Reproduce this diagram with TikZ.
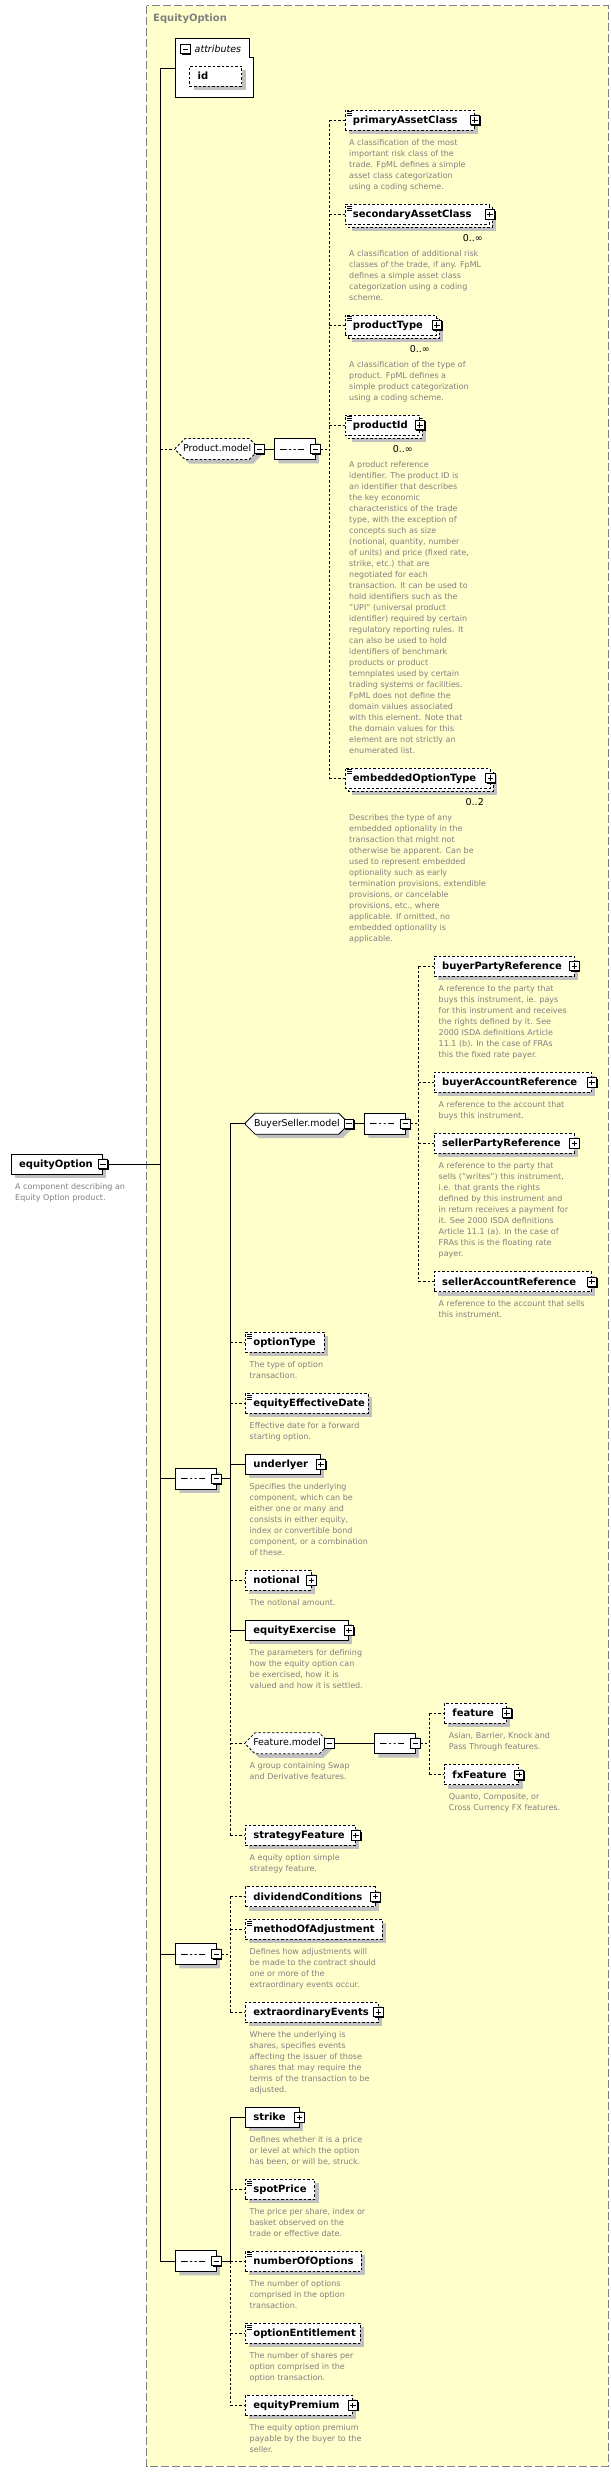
\documentclass[tikz,border=0pt]{standalone}
\usepackage{fontspec}
\setmainfont{DejaVu Sans}
\usetikzlibrary{shapes.misc,shadows}
\definecolor{paneyellow}{RGB}{255,255,204}
\definecolor{panegray}{RGB}{128,128,128}
\definecolor{descgray}{RGB}{128,128,128}
\definecolor{shadowgray}{RGB}{192,192,192}
\newcommand\lblfont{\bfseries\fontsize{10}{12}\selectfont}
\newcommand\mdlfont{\fontsize{9.4}{11}\selectfont}
\newcommand\dscfont{\fontsize{8}{11}\selectfont}
\newcommand\mulfont{\fontsize{9.5}{11}\selectfont}
\tikzset{
  conn/.style={line width=0.8pt},
  dsh/.style={dash pattern=on 2.5pt off 2pt},
  shad/.style={drop shadow={shadow xshift=4pt, shadow yshift=-4pt, fill=shadowgray, opacity=1}},
  box/.style={draw, fill=white, line width=0.8pt, anchor=west, minimum height=20pt,
    inner xsep=8pt, inner ysep=0pt, align=left, text height=7.6pt, text depth=1pt, font=\lblfont},
  elem/.style={box, shad},
  opt/.style={box, dsh, shad},
  optmulti/.style={box, dsh,
    drop shadow={shadow xshift=7pt, shadow yshift=-7pt, fill=shadowgray, opacity=1},
    copy shadow={shadow xshift=3pt, shadow yshift=-3pt, draw=black, fill=white, line width=0.8pt, dsh, opacity=1}},
  model/.style={draw, fill=white, line width=0.8pt, chamfered rectangle,
    chamfered rectangle xsep=5pt, chamfered rectangle ysep=5pt, minimum height=21pt,
    inner xsep=2pt, inner ysep=0pt, anchor=west, font=\mdlfont, text height=7.3pt, text depth=2pt, shad},
  seqc/.style={draw, fill=white, line width=0.8pt, chamfered rectangle,
    chamfered rectangle xsep=8pt, chamfered rectangle ysep=7pt, minimum width=40.5pt,
    minimum height=20.5pt, inner sep=0pt, anchor=west, shad,
    path picture={
      \draw[line width=0.8pt] ([xshift=6pt]path picture bounding box.west) -- ++(24,0);
      \foreach \dx in {13.5pt,18pt,22.5pt}
        \fill ([xshift=\dx]path picture bounding box.west) circle[radius=1.5];
    }},
  iconbox/.style={draw, fill=white, line width=0.8pt, minimum size=9.5pt, inner sep=0pt,
    drop shadow={shadow xshift=1.2pt, shadow yshift=-1.2pt, fill=black, opacity=1}},
  plusbox/.style={iconbox, path picture={
      \draw[line width=0.8pt] ([xshift=2pt]path picture bounding box.west) -- ([xshift=-2pt]path picture bounding box.east)
        ([yshift=-2pt]path picture bounding box.north) -- ([yshift=2pt]path picture bounding box.south);}},
  minusbox/.style={iconbox, path picture={
      \draw[line width=0.8pt] ([xshift=2pt]path picture bounding box.west) -- ([xshift=-2pt]path picture bounding box.east);}},
  desc/.style={anchor=north west, yshift=6.5pt, inner sep=0pt, align=left, font=\dscfont, text=descgray,
    execute at begin node={\rule{0pt}{6.5pt}}},
  mult/.style={anchor=east, inner sep=0pt, font=\mulfont}
}
\begin{document}
\begin{tikzpicture}[x=1pt, y=-1pt]
  \useasboundingbox (0,0) rectangle (610,2472);
  % pane of the complex type
  \draw[panegray, fill=paneyellow, line width=0.8pt, dash pattern=on 8pt off 3pt] (146.5,5.7) rectangle (608,2466);
  \node[anchor=west, inner sep=0pt, font=\lblfont, text=panegray] (title) at (153,19) {EquityOption};

  % attributes
  \draw[line width=0.8pt, fill=white] (175,38.3) -- (249.3,38.3) -- (249.3,57.3) -- (253.2,57.3) -- (253.2,97.7) -- (175,97.7) -- cycle;
  \node[minusbox] (attr-i) at (185.5,49) {};
  \node[anchor=west, inner sep=0pt, font=\itshape\fontsize{9.5}{11}\selectfont] (attr-t) at (194.5,48.5) {attributes};
  \node[opt, text width=36.2pt] (id) at (189.2,76) {id};
  \coordinate (attr) at (175,68.3);

  % root element
  \node[elem, text width=75.3pt] (eo) at (10.7,1164) {equityOption};
  \node[minusbox] (eo-i) at (eo.east) {};
  \node[desc] (eo-d) at (15,1190) {A component describing an\\Equity Option product.};

  % Product.model
  \node[model, dsh, minimum width=83.5pt] (pm) at (175,449) {Product.model};
  \node[minusbox] (pm-i) at (pm.east) {};
  \node[seqc] (pm-s) at (274,449) {};
  \node[minusbox] (pm-si) at (pm-s.east) {};

  \node[opt, text width=113.5pt] (pac) at (344.5,120) {primaryAssetClass};
  \node[desc] (pac-d) at (349,146) {A classification of the most\\important risk class of the\\trade. FpML defines a simple\\asset class categorization\\using a coding scheme.};
  \node[optmulti, text width=128.5pt] (sac) at (344.5,214.3) {secondaryAssetClass};
  \node[mult] (sac-m) at (483,238) {0..∞};
  \node[desc] (sac-d) at (349,257) {A classification of additional risk\\classes of the trade, if any. FpML\\defines a simple asset class\\categorization using a coding\\scheme.};
  \node[optmulti, text width=75.5pt] (pt) at (344.5,325) {productType};
  \node[mult] (pt-m) at (430,349) {0..∞};
  \node[desc] (pt-d) at (349,368) {A classification of the type of\\product. FpML defines a\\simple product categorization\\using a coding scheme.};
  \node[optmulti, text width=58.5pt] (pid) at (344.5,425) {productId};
  \node[mult] (pid-m) at (413,449) {0..∞};
  \node[desc] (pid-d) at (349,467.7) {A product reference\\identifier. The product ID is\\an identifier that describes\\the key economic\\characteristics of the trade\\type, with the exception of\\concepts such as size\\(notional, quantity, number\\of units) and price (fixed rate,\\strike, etc.) that are\\negotiated for each\\transaction. It can be used to\\hold identifiers such as the\\"UPI" (universal product\\identifier) required by certain\\regulatory reporting rules. It\\can also be used to hold\\identifiers of benchmark\\products or product\\temnplates used by certain\\trading systems or facilities.\\FpML does not define the\\domain values associated\\with this element. Note that\\the domain values for this\\element are not strictly an\\enumerated list.};
  \node[optmulti, text width=129pt] (eot) at (344.5,778) {embeddedOptionType};
  \node[mult] (eot-m) at (484,802) {0..2};
  \node[desc] (eot-d) at (349,820.7) {Describes the type of any\\embedded optionality in the\\transaction that might not\\otherwise be apparent. Can be\\used to represent embedded\\optionality such as early\\termination provisions, extendible\\provisions, or cancelable\\provisions, etc., where\\applicable. If omitted, no\\embedded optionality is\\applicable.};

  % first sequence
  \node[seqc] (s1) at (175,1478.7) {};
  \node[minusbox] (s1-i) at (s1.east) {};

  \node[model, minimum width=103pt] (bsm) at (245,1123.7) {BuyerSeller.model};
  \node[minusbox] (bsm-i) at (bsm.east) {};
  \node[seqc] (bsm-s) at (364,1123.7) {};
  \node[minusbox] (bsm-si) at (bsm-s.east) {};
  \node[opt, text width=123.8pt] (bpr) at (433.7,966) {buyerPartyReference};
  \node[desc] (bpr-d) at (438.5,991.7) {A reference to the party that\\buys this instrument, ie. pays\\for this instrument and receives\\the rights defined by it. See\\2000 ISDA definitions Article\\11.1 (b). In the case of FRAs\\this the fixed rate payer.};
  \node[opt, text width=141.3pt] (bar) at (433.7,1082.3) {buyerAccountReference};
  \node[desc] (bar-d) at (438.5,1107.7) {A reference to the account that\\buys this instrument.};
  \node[opt, text width=123.8pt] (spr) at (433.7,1143.3) {sellerPartyReference};
  \node[desc] (spr-d) at (438.5,1168.3) {A reference to the party that\\sells ("writes") this instrument,\\i.e. that grants the rights\\defined by this instrument and\\in return receives a payment for\\it. See 2000 ISDA definitions\\Article 11.1 (a). In the case of\\FRAs this is the floating rate\\payer.};
  \node[opt, text width=141.3pt] (sar) at (433.7,1281.7) {sellerAccountReference};
  \node[desc] (sar-d) at (438.5,1306.7) {A reference to the account that sells\\this instrument.};

  \node[opt, text width=63pt] (ot) at (245,1342.3) {optionType};
  \node[desc] (ot-d) at (249.5,1367.7) {The type of option\\transaction.};
  \node[opt, text width=106.7pt] (eed) at (245,1403.3) {equityEffectiveDate};
  \node[desc] (eed-d) at (249.5,1428.7) {Effective date for a forward\\starting option.};
  \node[elem, text width=59pt] (und) at (245,1464.3) {underlyer};
  \node[desc] (und-d) at (249.5,1489.7) {Specifies the underlying\\component, which can be\\either one or many and\\consists in either equity,\\index or convertible bond\\component, or a combination\\of these.};
  \node[opt, text width=49.5pt] (ntl) at (245,1580.3) {notional};
  \node[desc] (ntl-d) at (249.5,1605.3) {The notional amount.};
  \node[elem, text width=87pt] (eex) at (245,1630.3) {equityExercise};
  \node[desc] (eex-d) at (249.5,1655.7) {The parameters for defining\\how the equity option can\\be exercised, how it is\\valued and how it is settled.};

  \node[model, dsh, minimum width=83.5pt] (fm) at (245,1743.3) {Feature.model};
  \node[minusbox] (fm-i) at (fm.east) {};
  \node[desc] (fm-d) at (249.5,1769) {A group containing Swap\\and Derivative features.};
  \node[seqc] (fm-s) at (374,1743.3) {};
  \node[minusbox] (fm-si) at (fm-s.east) {};
  \node[opt, text width=46pt] (fea) at (444,1713) {feature};
  \node[desc] (fea-d) at (448.7,1738.7) {Asian, Barrier, Knock and\\Pass Through features.};
  \node[opt, text width=58.3pt] (fxf) at (444,1774.7) {fxFeature};
  \node[desc] (fxf-d) at (448.7,1799.7) {Quanto, Composite, or\\Cross Currency FX features.};

  \node[opt, text width=94pt] (stf) at (245,1835.3) {strategyFeature};
  \node[desc] (stf-d) at (249.5,1860.7) {A equity option simple\\strategy feature.};

  % second sequence
  \node[seqc] (s2) at (175,1954) {};
  \node[minusbox] (s2-i) at (s2.east) {};
  \node[opt, text width=113.5pt] (dvc) at (245,1896.7) {dividendConditions};
  \node[opt, text width=121pt] (moa) at (245,1929.3) {methodOfAdjustment};
  \node[desc] (moa-d) at (249.5,1954.7) {Defines how adjustments will\\be made to the contract should\\one or more of the\\extraordinary events occur.};
  \node[opt, text width=116.5pt] (exe) at (245,2012) {extraordinaryEvents};
  \node[desc] (exe-d) at (249.5,2037.7) {Where the underlying is\\shares, specifies events\\affecting the issuer of those\\shares that may require the\\terms of the transaction to be\\adjusted.};

  % third sequence
  \node[seqc] (s3) at (175,2261) {};
  \node[minusbox] (s3-i) at (s3.east) {};
  \node[elem, text width=37.5pt] (stk) at (245,2117.3) {strike};
  \node[desc] (stk-d) at (249.5,2142.7) {Defines whether it is a price\\or level at which the option\\has been, or will be, struck.};
  \node[opt, text width=53.4pt] (spp) at (245,2189.3) {spotPrice};
  \node[desc] (spp-d) at (249.5,2214.7) {The price per share, index or\\basket observed on the\\trade or effective date.};
  \node[opt, text width=100pt] (noo) at (245,2261) {numberOfOptions};
  \node[desc] (noo-d) at (249.5,2286.7) {The number of options\\comprised in the option\\transaction.};
  \node[opt, text width=99pt] (oen) at (245,2333.3) {optionEntitlement};
  \node[desc] (oen-d) at (249.5,2358.3) {The number of shares per\\option comprised in the\\option transaction.};
  \node[opt, text width=91pt] (epr) at (245,2405.3) {equityPremium};
  \node[desc] (epr-d) at (249.5,2430.7) {The equity option premium\\payable by the buyer to the\\seller.};

  % expand icons and simple type marks
  \foreach \n in {pac,sac,pt,pid,eot,bpr,bar,spr,sar,und,ntl,eex,fea,fxf,stf,dvc,exe,stk,epr}
    \node[plusbox] (\n-i) at (\n.east) {};
  \foreach \n in {pac,sac,pt,pid,eot,ot,eed,moa,spp,noo,oen}
    \foreach \d in {2pt,4pt,6pt}
      \draw[line width=0.7pt] ([xshift=2pt,yshift=-\d]\n.north west) -- ++(5,0);

  % spine
  \coordinate (spine) at (160,68.3);
  \draw[conn] (attr) -- (spine) -- (spine |- s3.west) -- (s3.west);
  \draw[conn] (eo-i.east) -- (eo-i.east -| spine);
  \draw[conn,dsh] (spine |- pm.west) -- (pm.west);
  \draw[conn] (spine |- s1.west) -- (s1.west);
  \draw[conn] (spine |- s2.west) -- (s2.west);

  % Product.model branches
  \coordinate (pmbus) at (329,120);
  \draw[conn] (pm-i.east) -- (pm-s.west);
  \draw[conn,dsh] (pm-si.east) -- (pm-si.east -| pmbus);
  \draw[conn,dsh] (pmbus) -- (pmbus |- eot.west);
  \foreach \n in {pac,sac,pt,pid,eot}
    \draw[conn,dsh] (pmbus |- \n.west) -- (\n.west);

  % first sequence branches
  \coordinate (bus1) at (230,1123.7);
  \draw[conn] (s1-i.east) -- (s1-i.east -| bus1);
  \draw[conn] (bus1) -- (bus1 |- eex.west);
  \draw[conn,dsh] (bus1 |- eex.west) -- (bus1 |- stf.west);
  \foreach \n in {bsm,und,eex}
    \draw[conn] (bus1 |- \n.west) -- (\n.west);
  \foreach \n in {ot,eed,ntl,fm,stf}
    \draw[conn,dsh] (bus1 |- \n.west) -- (\n.west);

  % BuyerSeller.model branches
  \coordinate (bsbus) at (418.7,966);
  \draw[conn] (bsm-i.east) -- (bsm-s.west);
  \draw[conn,dsh] (bsm-si.east) -- (bsm-si.east -| bsbus);
  \draw[conn,dsh] (bsbus) -- (bsbus |- sar.west);
  \foreach \n in {bpr,bar,spr,sar}
    \draw[conn,dsh] (bsbus |- \n.west) -- (\n.west);

  % Feature.model branches
  \coordinate (fmbus) at (429,1713);
  \draw[conn] (fm-i.east) -- (fm-s.west);
  \draw[conn,dsh] (fm-si.east) -- (fm-si.east -| fmbus);
  \draw[conn,dsh] (fmbus) -- (fmbus |- fxf.west);
  \foreach \n in {fea,fxf}
    \draw[conn,dsh] (fmbus |- \n.west) -- (\n.west);

  % second sequence branches
  \coordinate (bus2) at (230,1896.7);
  \draw[conn,dsh] (s2-i.east) -- (s2-i.east -| bus2);
  \draw[conn,dsh] (bus2) -- (bus2 |- exe.west);
  \foreach \n in {dvc,moa,exe}
    \draw[conn,dsh] (bus2 |- \n.west) -- (\n.west);

  % third sequence branches
  \coordinate (bus3) at (230,2117.3);
  \draw[conn] (s3-i.east) -- (s3-i.east -| bus3);
  \draw[conn] (bus3) -- (bus3 |- s3.west);
  \draw[conn,dsh] (bus3 |- s3.west) -- (bus3 |- epr.west);
  \draw[conn] (bus3 |- stk.west) -- (stk.west);
  \foreach \n in {spp,noo,oen,epr}
    \draw[conn,dsh] (bus3 |- \n.west) -- (\n.west);
\end{tikzpicture}
\end{document}
